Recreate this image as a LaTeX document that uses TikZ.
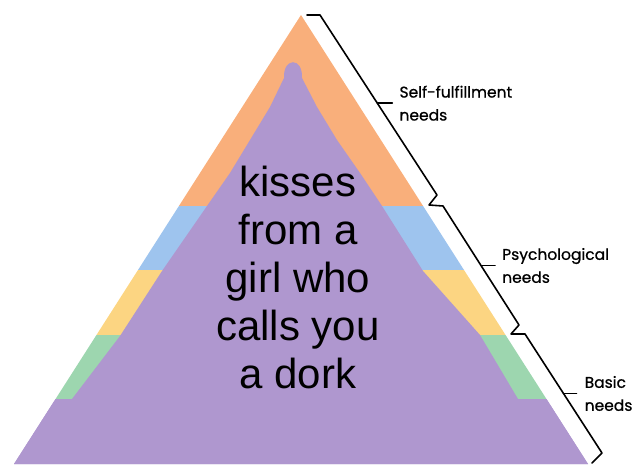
\documentclass[tikz,border=0pt]{standalone}
\usepackage{fontspec}
\setmainfont{Liberation Sans}
\newfontfamily\levelfont[FakeBold=0.8]{Poppins}
\usetikzlibrary{positioning}
\definecolor{selfcol}{HTML}{F9AF7B}
\definecolor{psychblue}{HTML}{9EC4EE}
\definecolor{psychyellow}{HTML}{FCD582}
\definecolor{basicgreen}{HTML}{9DD6AF}
\definecolor{kisscol}{HTML}{AF97CF}

\begin{document}
\begin{tikzpicture}[x=1pt, y=-1pt,
		brace/.style={draw, line width=1.6, line join=round, line cap=round},
		level/.style={font=\levelfont\fontsize{15.5}{23}\selectfont, align=left, inner sep=0pt}]
	\useasboundingbox (0,0) rectangle (640,476);
	\coordinate (apex) at (301,15);
	\coordinate (bl) at (14,464);
	\coordinate (br) at (588,464);
	\begin{scope}
		\clip (apex) -- (br) -- (bl) -- cycle;
		\fill[selfcol] (0,0) rectangle (640,206);
		\fill[psychblue] (0,206) rectangle (640,270);
		\fill[psychyellow] (0,270) rectangle (640,335);
		\fill[basicgreen] (0,335) rectangle (640,399);
		\fill[kisscol] (0,399) rectangle (640,476);
		\fill[kisscol] (0,399) -- (72,399) -- (120,336) -- (162,271) -- (207,206)
			-- (230,173) -- (250,140) -- (270,107) -- (284,78)
			.. controls (283,57) and (303,57) .. (302,78)
			-- (317,107) -- (337,140) -- (360,173) -- (382,206) -- (423,271)
			-- (480,335) -- (518,399) -- (640,399) -- (640,476) -- (0,476) -- cycle;
	\end{scope}
	\node (kiss) at (298,277) [align=center, font=\fontsize{42}{48}\selectfont, inner sep=0pt]
		{kisses\\from a\\girl who\\calls you\\a dork};
	% brackets
	\coordinate (s1) at (320,15);
	\coordinate (e1) at (437,195);
	\coordinate (s2) at (443,206);
	\coordinate (e2) at (519,325);
	\coordinate (s3) at (525,334);
	\coordinate (e3) at (602,453);
	\draw[brace] (307,15) -- (s1) -- (e1) -- (429,205) -- (s2) -- (e2) -- (511,334) -- (s3) -- (e3) -- (592,463);
	\path (s1) -- (e1) coordinate[pos=0.49] (m1);
	\path (s2) -- (e2) coordinate[pos=0.5] (m2);
	\path (s3) -- (e3) coordinate[pos=0.5] (m3);
	\draw[brace] (m1) -- ++(15,0) coordinate (t1);
	\draw[brace] (m2) -- ++(14,0) coordinate (t2);
	\draw[brace] (m3) -- ++(13,0) coordinate (t3);
	\node[level, right=7pt of t1] (selfl) {Self-fulfillment\\needs};
	\node[level, right=7pt of t2] (psychl) {Psychological\\needs};
	\node[level, right=8pt of t3] (basicl) {Basic\\needs};
\end{tikzpicture}
\end{document}
